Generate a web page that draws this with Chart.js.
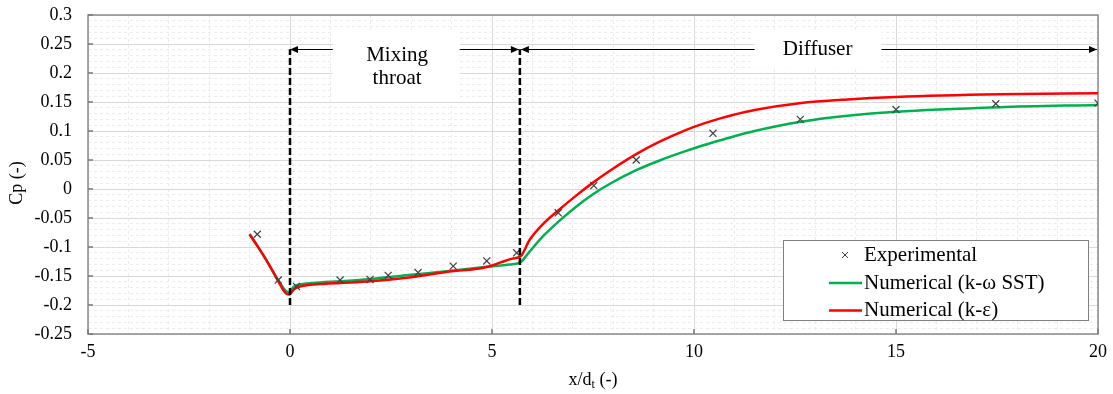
<!DOCTYPE html>
<html>
<head>
<meta charset="utf-8">
<script src="https://cdn.jsdelivr.net/npm/chart.js@4.4.1/dist/chart.umd.min.js"></script>
<style>
  html, body { margin: 0; padding: 0; background: #fff; }
  #wrap { width: 1113px; height: 394px; }
</style>
</head>
<body>
<div id="wrap"><canvas id="cpChart" width="1113" height="394"></canvas></div>
<script>
// experimental pressure coefficient
const expX  = [-0.81, -0.29, 0.16, 1.24, 1.98, 2.43, 3.17, 4.04, 4.87, 5.61, 6.64, 7.52, 8.57, 10.47, 12.63, 15.0, 17.47, 20.0];
const expCp = [-0.078, -0.157, -0.168, -0.157, -0.156, -0.149, -0.144, -0.133, -0.124, -0.110, -0.041, 0.006, 0.050, 0.096, 0.120, 0.137, 0.147, 0.148];

// numerical, k-omega SST
const sstX  = [-1.0, -0.8, -0.6, -0.4, -0.25, -0.15, -0.08, -0.02, 0.04, 0.1, 0.2, 0.41, 0.74, 1.24, 2.0, 3.0, 4.0, 4.87, 5.44, 5.71,
               5.93, 6.27, 6.68, 7.09, 7.5, 7.91, 8.57, 9.15, 9.81, 10.14, 10.63, 10.96, 11.5, 12.61, 13.8, 15.0, 17.56, 20.0];
const sstCp = [-0.078, -0.099, -0.121, -0.145, -0.162, -0.172, -0.177, -0.178, -0.173, -0.168, -0.165, -0.163, -0.161, -0.159, -0.155, -0.148, -0.141, -0.134, -0.130, -0.126,
               -0.108, -0.081, -0.054, -0.030, -0.009, 0.0086, 0.0324, 0.0492, 0.0657, 0.0733, 0.0836, 0.0902, 0.100, 0.1155, 0.1262, 0.1332, 0.141, 0.145];

// numerical, k-epsilon
const keX  = [-1.0, -0.8, -0.6, -0.4, -0.25, -0.15, -0.08, -0.02, 0.04, 0.1, 0.2, 0.41, 0.74, 1.24, 2.0, 3.0, 4.0, 4.6, 4.9, 5.2, 5.5, 5.71,
              5.93, 6.27, 6.64, 7.09, 7.5, 7.91, 8.57, 9.15, 9.81, 10.14, 10.63, 10.96, 11.5, 12.61, 13.8, 15.0, 17.56, 20.0];
const keCp = [-0.078, -0.099, -0.121, -0.145, -0.164, -0.176, -0.181, -0.182, -0.178, -0.173, -0.169, -0.166, -0.164, -0.162, -0.159, -0.152, -0.142, -0.138, -0.134, -0.127, -0.120, -0.116,
              -0.088, -0.060, -0.037, -0.011, 0.011, 0.031, 0.060, 0.0815, 0.102, 0.1106, 0.1214, 0.1277, 0.1363, 0.148, 0.1545, 0.1587, 0.1633, 0.165];

// section boundaries (mixing throat start / diffuser start)
const sectionX = [0, 5.69];
const sectionCp = [-0.2, 0.241];

const seriesNames = ['Experimental', 'Numerical (k-\u03c9 SST)', 'Numerical (k-\u03b5)'];

const toPts = (xs, ys) => xs.map((x, i) => ({ x: x, y: ys[i] }));
const isMajorY = v => Math.round(v * 100) % 5 === 0;
const isMajorX = v => Math.round(v) % 5 === 0;

const SERIF = '"Liberation Serif", "Times New Roman", serif';
Chart.defaults.font.family = SERIF;
Chart.defaults.color = '#000';

function arrow(ctx, x1, x2, y) {
    const dir = Math.sign(x2 - x1);
    ctx.beginPath();
    ctx.moveTo(x1, y);
    ctx.lineTo(x2, y);
    ctx.stroke();
    ctx.beginPath();
    ctx.moveTo(x2, y);
    ctx.lineTo(x2 - dir * 8, y - 3.5);
    ctx.lineTo(x2 - dir * 8, y + 3.5);
    ctx.closePath();
    ctx.fill();
}

const decor = {
    id: 'decor',
    beforeDatasetsDraw(chart) {
        const { ctx, chartArea: a, scales: { x, y } } = chart;
        ctx.save();
        // white label boxes over the grid
        ctx.fillStyle = '#fff';
        ctx.fillRect(x.getPixelForValue(1.06), y.getPixelForValue(0.274),
                     x.getPixelForValue(4.2) - x.getPixelForValue(1.06), y.getPixelForValue(0.15) - y.getPixelForValue(0.274));
        ctx.fillRect(x.getPixelForValue(11.5), y.getPixelForValue(0.274),
                     x.getPixelForValue(14.64) - x.getPixelForValue(11.5), y.getPixelForValue(0.209) - y.getPixelForValue(0.274));
        // plot frame
        ctx.strokeStyle = '#8c8c8c';
        ctx.lineWidth = 1.5;
        ctx.strokeRect(a.left, a.top, a.right - a.left, a.bottom - a.top);
        // inward major tick marks
        ctx.strokeStyle = '#7a7a7a';
        ctx.lineWidth = 1.5;
        ctx.beginPath();
        for (let v = -5; v <= 20; v += 5) {
            const px = x.getPixelForValue(v);
            ctx.moveTo(px, a.bottom);
            ctx.lineTo(px, a.bottom - 5);
        }
        for (let k = -25; k <= 30; k += 5) {
            const py = y.getPixelForValue(k / 100);
            ctx.moveTo(a.left, py);
            ctx.lineTo(a.left + 5, py);
        }
        ctx.stroke();
        ctx.restore();
    },
    afterDatasetsDraw(chart) {
        const { ctx, scales: { x, y } } = chart;
        ctx.save();
        ctx.strokeStyle = '#000';
        ctx.fillStyle = '#000';
        ctx.lineWidth = 1;
        const ay = Math.round(y.getPixelForValue(sectionCp[1])) + 0.5;
        const x0 = x.getPixelForValue(sectionX[0]);
        const x1 = x.getPixelForValue(sectionX[1]);
        arrow(ctx, x.getPixelForValue(1.06), x0, ay);
        arrow(ctx, x.getPixelForValue(4.2), x1 - 1, ay);
        arrow(ctx, x.getPixelForValue(11.5), x1 + 1, ay);
        arrow(ctx, x.getPixelForValue(14.64), x.getPixelForValue(20) - 1, ay);

        ctx.font = '21px ' + SERIF;
        ctx.textAlign = 'center';
        ctx.textBaseline = 'middle';
        ctx.fillText('Mixing', x.getPixelForValue(2.65), y.getPixelForValue(0.231));
        ctx.fillText('throat', x.getPixelForValue(2.65), y.getPixelForValue(0.191));
        ctx.fillText('Diffuser', x.getPixelForValue(13.06), ay);
        ctx.restore();
    },
    afterDraw(chart) {
        const { ctx, chartArea: a } = chart;
        ctx.save();
        // axis titles
        ctx.fillStyle = '#000';
        ctx.font = '18px ' + SERIF;
        ctx.textBaseline = 'middle';
        ctx.textAlign = 'center';
        ctx.save();
        ctx.translate(17, 183);
        ctx.rotate(-Math.PI / 2);
        ctx.fillText('Cp (-)', 0, 0);
        ctx.restore();

        const cx = (a.left + a.right) / 2, ty = 380;
        ctx.textAlign = 'left';
        const w1 = ctx.measureText('x/d').width;
        const w3 = ctx.measureText(' (-)').width;
        ctx.font = '12px ' + SERIF;
        const w2 = ctx.measureText('t').width;
        let sx = cx - (w1 + w2 + w3) / 2;
        ctx.font = '18px ' + SERIF;
        ctx.fillText('x/d', sx, ty);
        ctx.font = '12px ' + SERIF;
        ctx.fillText('t', sx + w1, ty + 5);
        ctx.font = '18px ' + SERIF;
        ctx.fillText(' (-)', sx + w1 + w2, ty);

        // legend
        const lx = 783.5, ly = 240.5, lw = 305, lh = 80;
        ctx.fillStyle = '#fff';
        ctx.fillRect(lx, ly, lw, lh);
        ctx.strokeStyle = '#808080';
        ctx.lineWidth = 1;
        ctx.strokeRect(lx, ly, lw, lh);
        const rows = [255, 283, 310.5];
        ctx.font = '21px ' + SERIF;
        ctx.fillStyle = '#000';
        ctx.textBaseline = 'middle';
        ctx.fillText(seriesNames[0], 864, rows[0]);
        ctx.fillText(seriesNames[1], 864, rows[1]);
        ctx.fillText(seriesNames[2], 864, rows[2]);
        ctx.strokeStyle = '#404040';
        ctx.lineWidth = 1;
        ctx.beginPath();
        ctx.moveTo(842, rows[0] - 3); ctx.lineTo(848, rows[0] + 3);
        ctx.moveTo(848, rows[0] - 3); ctx.lineTo(842, rows[0] + 3);
        ctx.stroke();
        ctx.lineWidth = 2.5;
        ctx.strokeStyle = '#00b050';
        ctx.beginPath(); ctx.moveTo(829, rows[1]); ctx.lineTo(862, rows[1]); ctx.stroke();
        ctx.strokeStyle = '#ff0000';
        ctx.beginPath(); ctx.moveTo(829, rows[2]); ctx.lineTo(862, rows[2]); ctx.stroke();
        ctx.restore();
    }
};

const ctx = document.getElementById('cpChart');

new Chart(ctx, {
    type: 'scatter',
    data: {
        datasets: [
            {
                label: 'section0',
                data: toPts([sectionX[0], sectionX[0]], sectionCp),
                showLine: true,
                borderColor: '#000',
                borderWidth: 2.5,
                borderDash: [7, 3],
                pointRadius: 0,
                order: -1
            },
            {
                label: 'section1',
                data: toPts([sectionX[1], sectionX[1]], sectionCp),
                showLine: true,
                borderColor: '#000',
                borderWidth: 2.5,
                borderDash: [7, 3],
                pointRadius: 0,
                order: -1
            },
            {
                label: seriesNames[0],
                data: toPts(expX, expCp),
                pointStyle: 'crossRot',
                pointRadius: 5,
                borderColor: '#404040',
                borderWidth: 1.2,
                order: 0
            },
            {
                label: seriesNames[2],
                data: toPts(keX, keCp),
                showLine: true,
                borderColor: '#ff0000',
                borderWidth: 2.5,
                pointRadius: 0,
                cubicInterpolationMode: 'monotone',
                order: 1
            },
            {
                label: seriesNames[1],
                data: toPts(sstX, sstCp),
                showLine: true,
                borderColor: '#00b050',
                borderWidth: 2.5,
                pointRadius: 0,
                cubicInterpolationMode: 'monotone',
                order: 2
            }
        ]
    },
    options: {
        responsive: false,
        animation: false,
        layout: { padding: { top: 15, right: 15, left: 0, bottom: 0 } },
        scales: {
            x: {
                type: 'linear',
                min: -5,
                max: 20,
                afterFit: scale => {
                    scale.height = 60;
                    scale.paddingLeft = 0;
                    scale.paddingRight = 0;
                },
                ticks: {
                    stepSize: 1,
                    autoSkip: false,
                    maxRotation: 0,
                    padding: 7,
                    font: { size: 18 },
                    callback: v => isMajorX(v) ? String(Math.round(v)) : ''
                },
                grid: {
                    drawTicks: false,
                    color: c => isMajorX(c.tick.value) ? '#d9d9d9' : '#ececec',
                    lineWidth: 1
                },
                border: {
                    display: false,
                    dash: c => (c.tick && !isMajorX(c.tick.value)) ? [3, 3] : []
                }
            },
            y: {
                min: -0.25,
                max: 0.3,
                afterFit: scale => {
                    scale.width = 88;
                    scale.paddingTop = 0;
                    scale.paddingBottom = 0;
                },
                ticks: {
                    stepSize: 0.01,
                    autoSkip: false,
                    padding: 16,
                    font: { size: 18 },
                    callback: v => {
                        const k = Math.round(v * 100);
                        return k % 5 === 0 ? String(k / 100) : '';
                    }
                },
                grid: {
                    drawTicks: false,
                    color: c => isMajorY(c.tick.value) ? '#d9d9d9' : '#ececec',
                    lineWidth: 1
                },
                border: {
                    display: false,
                    dash: c => (c.tick && !isMajorY(c.tick.value)) ? [3, 3] : []
                }
            }
        },
        plugins: {
            legend: { display: false },
            tooltip: { enabled: false }
        }
    },
    plugins: [decor]
});
</script>
</body>
</html>
